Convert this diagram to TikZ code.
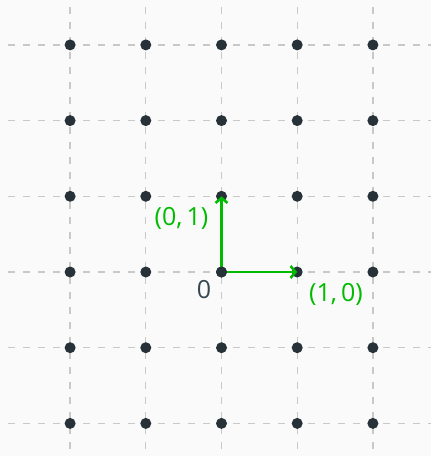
\documentclass[tikz,border=0pt]{standalone}
\usepackage{fontspec}
\setmainfont{Open Sans}
\usetikzlibrary{arrows.meta}
\definecolor{bg}{HTML}{FAFAFA}
\definecolor{gridc}{HTML}{C8C8C8}
\definecolor{dotc}{HTML}{263238}
\definecolor{vecc}{HTML}{00BB00}
\definecolor{labc}{HTML}{37474F}
\tikzset{
  gridline/.style={draw=gridc, line width=1.3pt, dash pattern=on 7pt off 8pt},
  latticedot/.style={circle, fill=dotc, inner sep=0pt, minimum size=11pt},
  vecarrow/.style={draw=vecc, line width=2.8pt, -{Straight Barb[length=5pt,width=12pt,line width=2.5pt]}},
  veclabel/.style={text=vecc, font=\fontsize{25}{29}\selectfont, inner sep=0pt},
  originlabel/.style={text=labc, font=\fontsize{25}{29}\selectfont, inner sep=0pt}
}
\begin{document}
\begin{tikzpicture}[x=1pt,y=-1pt]
\fill[bg] (0,0) rectangle (431,456);
\useasboundingbox (0,0) rectangle (431,456);
\def\ux{75.7}
% grid lines
\foreach \i in {-2,...,2} {
  \draw[gridline] (221.5+\i*\ux,7) -- (221.5+\i*\ux,456);
}
\foreach \j in {-2,...,3} {
  \draw[gridline] (8,272-\j*\ux) -- (431,272-\j*\ux);
}
% dots
\foreach \i in {-2,...,2} {
  \foreach \j in {-2,...,3} {
    \node[latticedot] (d\i\j) at (221.5+\i*\ux,272-\j*\ux) {};
  }
}
\draw[vecarrow] (d00.center) -- (d10.center);
\draw[vecarrow] (d00.center) -- (d01.center);
\node[latticedot] at (d00) {};
\node[veclabel] (l01) at (181.5,218) {(0,\,1)};
\node[veclabel] (l10) at (336,294) {(1,\,0)};
\node[originlabel] (l0) at (204,290) {0};
\end{tikzpicture}
\end{document}
